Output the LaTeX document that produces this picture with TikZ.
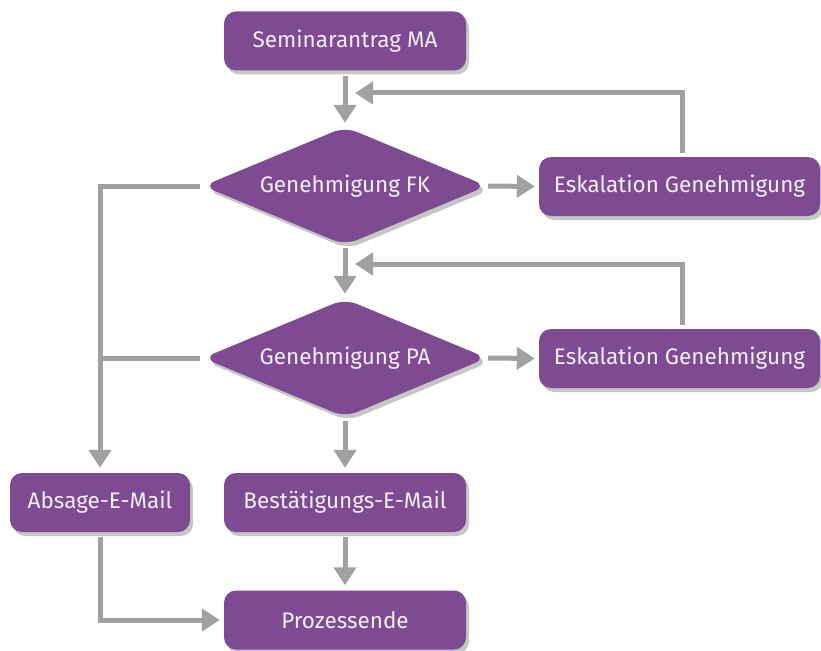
\documentclass[tikz,border=0pt]{standalone}
\usepackage{fontspec}
\setmainfont{Fira Sans}
\usetikzlibrary{arrows.meta,shadows}
\definecolor{purp}{HTML}{7E4A92}
\definecolor{conn}{HTML}{A0A1A3}
\definecolor{txt}{HTML}{F4EEF6}
\begin{document}
\begin{tikzpicture}[x=1pt,y=-1pt,
  shad/.style={drop shadow={shadow xshift=3pt,shadow yshift=-4pt,opacity=0.28,fill=black!80}},
  lbl/.style={text=txt,font=\fontsize{22.5}{26}\selectfont},
  box/.style={shad,lbl,fill=purp,rounded corners=12pt,inner sep=0pt,minimum height=59pt},
  decnode/.style={lbl,inner sep=0pt,minimum width=280pt,minimum height=116pt},
  decfill/.style={shad,fill=purp,rounded corners=13pt},
  conline/.style={draw=conn,line width=5pt},
  arr/.style={conline,-{Triangle[width=22pt,length=18pt]}}]
\useasboundingbox (0,0) rectangle (821,650);
% decision diamonds (shape drawn first, named node on top)
\fill[decfill] (203,186) -- (345,127) -- (487,186) -- (345,245) -- cycle;
\fill[decfill] (203,358) -- (345,299) -- (487,358) -- (345,417) -- cycle;
\node[decnode] (fk) at (345,186) {Genehmigung FK};
\node[decnode] (pa) at (345,358) {Genehmigung PA};
\node[box,minimum width=242pt] (sem) at (345,41) {Seminarantrag MA};
\node[box,minimum width=281pt] (esk1) at (679.5,186.5) {Eskalation Genehmigung};
\node[box,minimum width=281pt] (esk2) at (679.5,358.5) {Eskalation Genehmigung};
\node[box,minimum width=180pt] (abs) at (100,502.5) {Absage-E-Mail};
\node[box,minimum width=242pt] (best) at (345,502.5) {Bestätigungs-E-Mail};
\node[box,minimum width=242pt] (ende) at (345,620) {Prozessende};
\coordinate (r1) at (355,93);
\coordinate (r2) at (355,264);
% connectors
\draw[arr] ([yshift=-5pt]sem.south) -- ([yshift=5pt]fk.north);
\draw[arr] ([xshift=3pt,yshift=4pt]esk1.north) |- (r1);
\draw[arr] ([xshift=3pt]fk.east) -- ([xshift=-4pt]esk1.west);
\draw[arr] ([xshift=-5pt]fk.west) -| ([yshift=5pt]abs.north);
\draw[conline] ([xshift=-5pt]pa.west) -- (pa.west -| abs.north);
\draw[arr] ([yshift=-4pt]fk.south) -- ([yshift=6pt]pa.north);
\draw[arr] ([xshift=3pt,yshift=4pt]esk2.north) |- (r2);
\draw[arr] ([xshift=3pt]pa.east) -- ([xshift=-4pt]esk2.west);
\draw[arr] ([yshift=-5pt]pa.south) -- ([yshift=5pt]best.north);
\draw[arr] ([yshift=-5pt]best.south) -- ([yshift=5pt]ende.north);
\draw[arr] ([yshift=-5pt]abs.south) |- ([xshift=-4pt]ende.west);
\end{tikzpicture}
\end{document}
